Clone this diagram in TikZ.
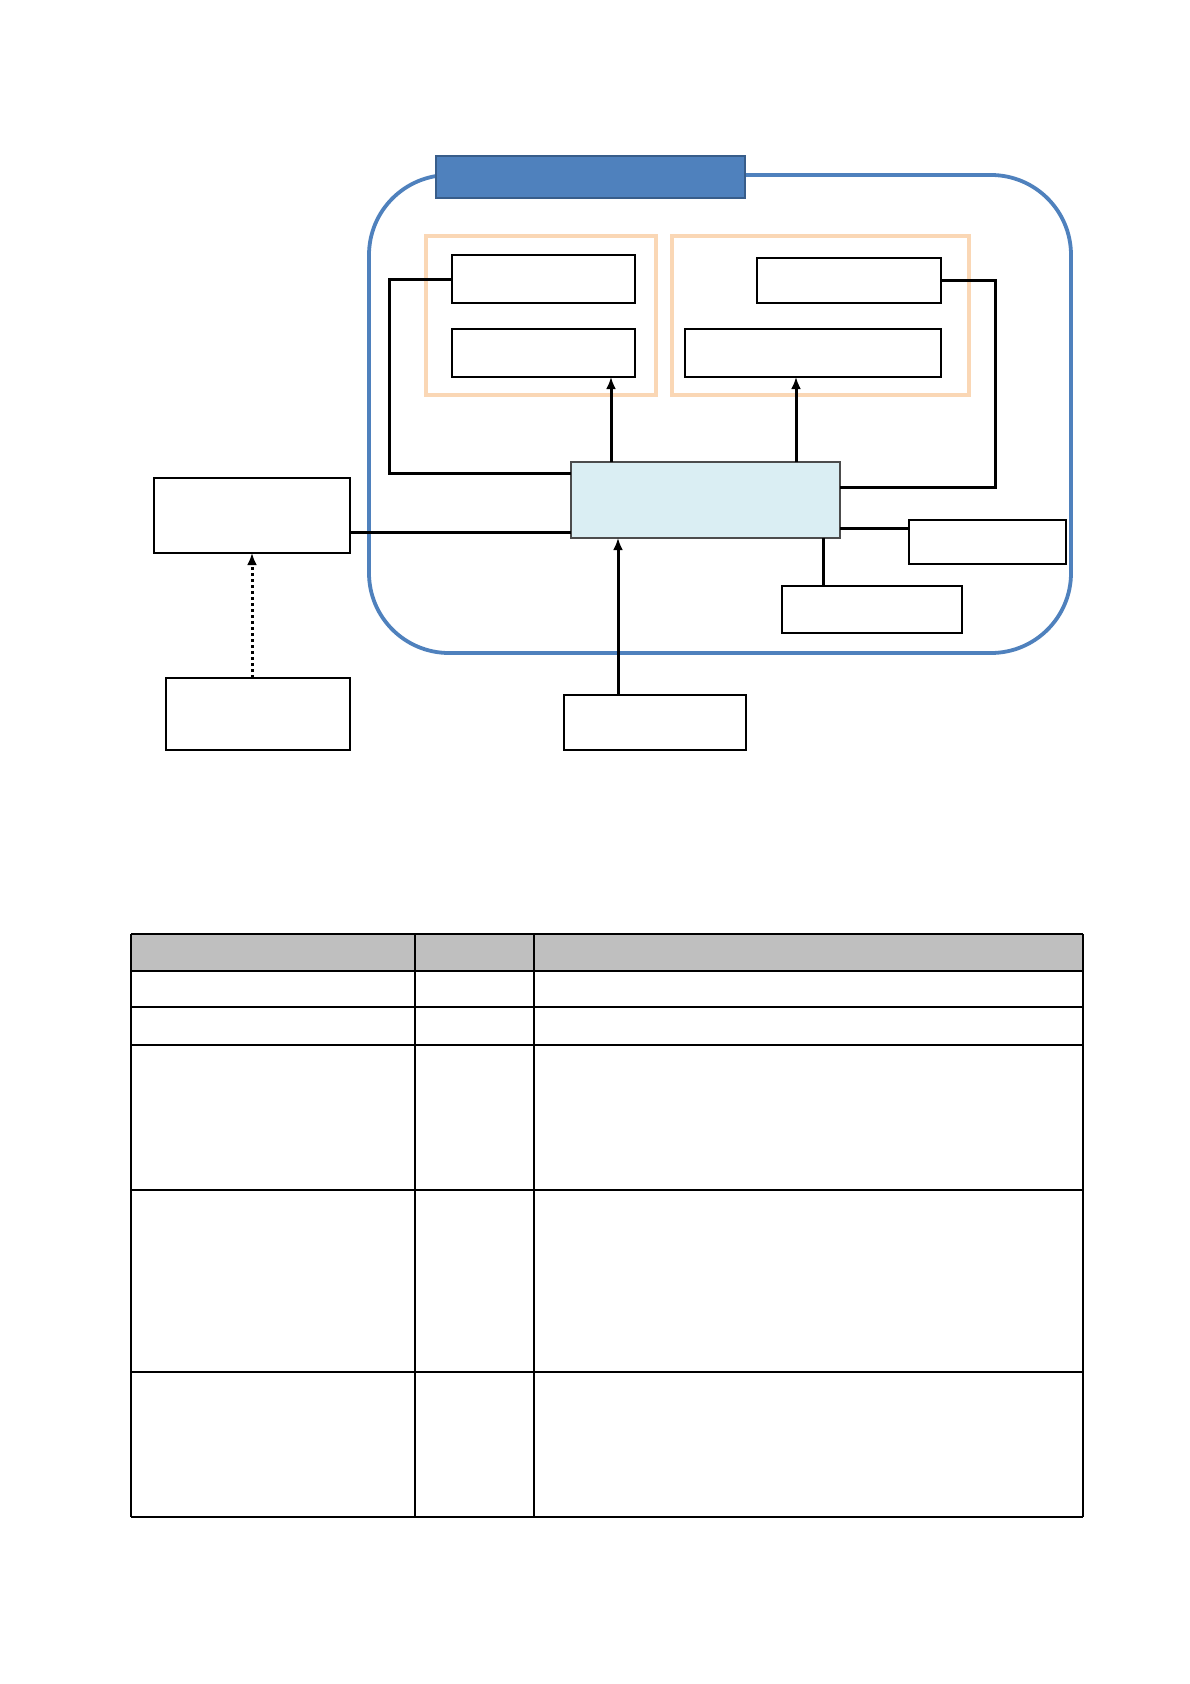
\documentclass[tikz,border=0pt]{standalone}
\usetikzlibrary{arrows.meta}
\definecolor{frameblue}{HTML}{4F81BD}
\definecolor{titleedge}{HTML}{385D8A}
\definecolor{peach}{HTML}{FAD7B5}
\definecolor{paleblue}{HTML}{DAEEF3}
\definecolor{headgray}{HTML}{BFBFBF}
\tikzset{
  box/.style={draw=black, line width=2pt, fill=white, inner sep=0pt, outer sep=0pt, anchor=north west},
  group/.style={draw=peach, line width=3.5pt, inner sep=0pt, outer sep=0pt, anchor=north west},
  hub/.style={draw=black!70, line width=1.8pt, fill=paleblue, inner sep=0pt, outer sep=0pt, anchor=north west},
  conn/.style={line width=3pt, black},
  arr/.style={conn, -{Latex[length=12pt,width=10pt]}},
  dotarr/.style={line width=3pt, black, dash pattern=on 3pt off 3pt, -{Latex[length=12pt,width=10pt]}},
  cell/.style={line width=1.3pt, black},
}
\begin{document}
\begin{tikzpicture}[x=1pt,y=-1pt]
\useasboundingbox (0,0) rectangle (1190,1684);
% outer frame
\draw[frameblue, line width=3.8pt, rounded corners=80pt] (369,175) rectangle (1071,653);
% title bar
\node[draw=titleedge, line width=2.5pt, fill=frameblue, inner sep=0pt, outer sep=0pt, anchor=north west,
      minimum width=309pt, minimum height=42pt] (title) at (436,156) {};
% groups
\node[group, minimum width=230pt, minimum height=159pt] (g1) at (426,236) {};
\node[group, minimum width=297pt, minimum height=159pt] (g2) at (672,236) {};
% boxes in groups
\node[box, minimum width=183pt, minimum height=48pt] (L1) at (452,255) {};
\node[box, minimum width=183pt, minimum height=48pt] (L2) at (452,329) {};
\node[box, minimum width=184pt, minimum height=45pt] (R1) at (757,258) {};
\node[box, minimum width=256pt, minimum height=48pt] (R2) at (685,329) {};
% hub
\node[hub, minimum width=269pt, minimum height=76pt] (C) at (571,462) {};
% outer boxes
\node[box, minimum width=196pt, minimum height=75pt] (A) at (154,478) {};
\node[box, minimum width=184pt, minimum height=72pt] (B) at (166,678) {};
\node[box, minimum width=182pt, minimum height=55pt] (P) at (564,695) {};
\node[box, minimum width=157pt, minimum height=44pt] (D) at (909,520) {};
\node[box, minimum width=180pt, minimum height=47pt] (E) at (782,586) {};
% helper coordinates
\coordinate (k1) at (389,473);
\coordinate (k2) at (995,487);
\coordinate (k3) at (0,528);
\coordinate (k4) at (0,532);
\coordinate (xa) at (611,0);
\coordinate (xb) at (796,0);
\coordinate (xc) at (823,0);
\coordinate (xd) at (618,0);
% connectors
\draw[conn] (L1.west) -| (k1) -- (k1 -| C.west);
\draw[conn] (R1.east) -| (k2) -- (k2 -| C.east);
\draw[arr] (C.north -| xa) -- (L2.south -| xa);
\draw[arr] (C.north -| xb) -- (R2.south -| xb);
\draw[conn] (C.east |- k3) -- (D.west |- k3);
\draw[conn] (C.south -| xc) -- (E.north -| xc);
\draw[conn] (A.east |- k4) -- (C.west |- k4);
\draw[dotarr] (B.north -| A.south) -- (A.south);
\draw[arr] (P.north -| xd) -- (C.south -| xd);
% table
\fill[headgray] (131,934) rectangle (1083,971);
\foreach \yy in {934,971,1007,1045,1190,1372,1517} \draw[cell] (131,\yy) -- (1083,\yy);
\foreach \xx in {131,415,534,1083} \draw[cell] (\xx,934) -- (\xx,1517);
\end{tikzpicture}
\end{document}
